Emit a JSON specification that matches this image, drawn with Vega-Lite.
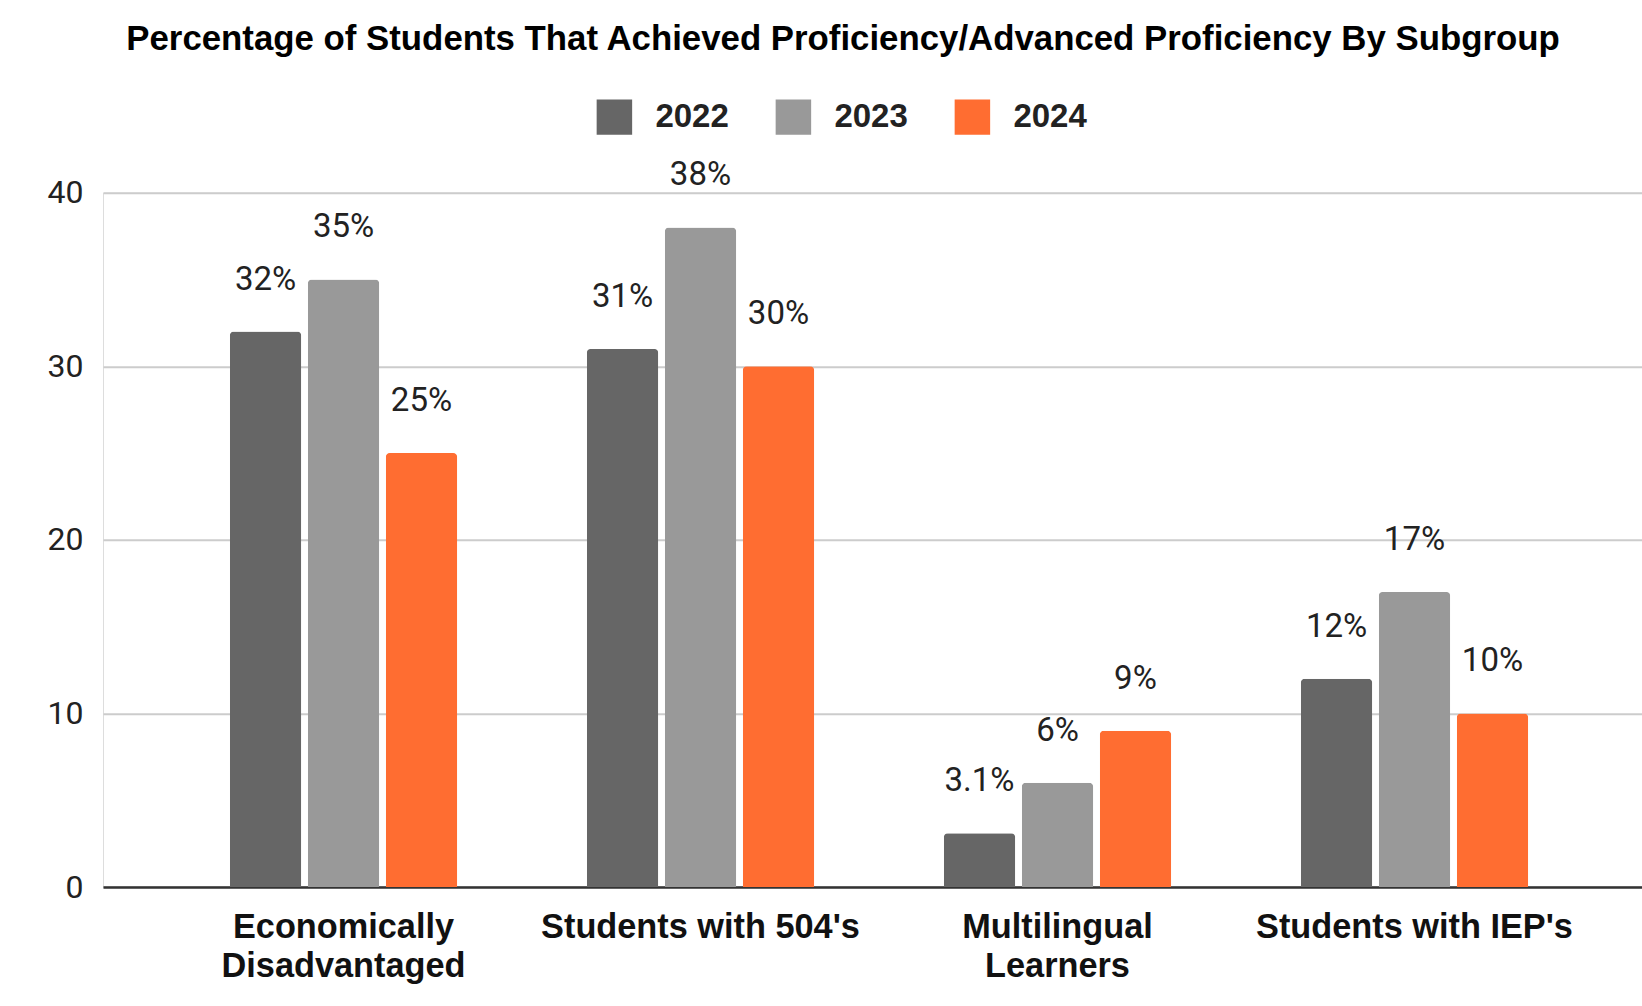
{
  "$schema": "https://vega.github.io/schema/vega-lite/v6.json",
  "width": 1539,
  "height": 694.3,
  "autosize": {"type": "none"},
  "padding": {"left": 103, "top": 192.7, "right": 0, "bottom": 119},
  "background": "white",
  "title": {
    "text": "Percentage of Students That Achieved Proficiency/Advanced Proficiency By Subgroup",
    "font": "Liberation Sans",
    "fontSize": 34.8,
    "fontWeight": "bold",
    "color": "#000000",
    "anchor": "middle",
    "frame": "group",
    "dx": -29.5,
    "offset": 41
  },
  "data": {
    "values": [
      {"subgroup": "Economically Disadvantaged", "year": "2022", "pct": 32},
      {"subgroup": "Economically Disadvantaged", "year": "2023", "pct": 35},
      {"subgroup": "Economically Disadvantaged", "year": "2024", "pct": 25},
      {"subgroup": "Students with 504's", "year": "2022", "pct": 31},
      {"subgroup": "Students with 504's", "year": "2023", "pct": 38},
      {"subgroup": "Students with 504's", "year": "2024", "pct": 30},
      {"subgroup": "Multilingual Learners", "year": "2022", "pct": 3.1},
      {"subgroup": "Multilingual Learners", "year": "2023", "pct": 6},
      {"subgroup": "Multilingual Learners", "year": "2024", "pct": 9},
      {"subgroup": "Students with IEP's", "year": "2022", "pct": 12},
      {"subgroup": "Students with IEP's", "year": "2023", "pct": 17},
      {"subgroup": "Students with IEP's", "year": "2024", "pct": 10}
    ]
  },
  "encoding": {
    "x": {
      "field": "subgroup",
      "type": "nominal",
      "sort": null,
      "scale": {"paddingInner": 0.363, "paddingOuter": 0.337, "align": 0.527},
      "axis": {
        "title": null,
        "labelAngle": 0,
        "labelFont": "Liberation Sans",
        "labelFontSize": 34.3,
        "labelFontWeight": "bold",
        "labelColor": "#111111",
        "labelPadding": 23,
        "labelLineHeight": 39,
        "labelLimit": 0,
        "labelExpr": "indexof(datum.value, 'Students') == 0 ? datum.value : split(datum.value, ' ')",
        "ticks": false,
        "domainColor": "#333333",
        "domainWidth": 2.5,
        "grid": false
      }
    },
    "xOffset": {
      "field": "year",
      "type": "nominal",
      "scale": {"paddingInner": 0.084, "paddingOuter": 0}
    },
    "y": {
      "field": "pct",
      "type": "quantitative",
      "scale": {"domain": [0, 40], "nice": false},
      "axis": {
        "title": null,
        "values": [0, 10, 20, 30, 40],
        "labelFont": "Roboto",
        "labelFontSize": 32,
        "labelColor": "#222222",
        "labelPadding": 20,
        "ticks": false,
        "domain": false,
        "gridColor": "#cccccc",
        "gridWidth": 2
      }
    }
  },
  "layer": [
    {
      "mark": {"type": "bar", "cornerRadiusTopLeft": 4, "cornerRadiusTopRight": 4},
      "encoding": {
        "color": {
          "field": "year",
          "type": "nominal",
          "scale": {"domain": ["2022", "2023", "2024"], "range": ["#666666", "#999999", "#ff6d31"]},
          "legend": {
            "title": null,
            "orient": "none",
            "legendX": 493.4,
            "legendY": -93.7,
            "direction": "horizontal",
            "columns": 3,
            "symbolType": "square",
            "symbolSize": 1260,
            "symbolStrokeWidth": 0,
            "symbolOpacity": 1,
            "labelFont": "Liberation Sans",
            "labelFontSize": 33,
            "labelFontWeight": "bold",
            "labelColor": "#222222",
            "labelOffset": 23,
            "columnPadding": 46,
            "padding": 0
          }
        }
      }
    },
    {
      "transform": [{"calculate": "format(datum.pct, '~g') + '%'", "as": "label"}],
      "mark": {
        "type": "text",
        "font": "Roboto",
        "fontSize": 33,
        "color": "#222222",
        "baseline": "alphabetic",
        "align": "center",
        "dy": -42
      },
      "encoding": {
        "text": {"field": "label", "type": "nominal"}
      }
    }
  ]
}
